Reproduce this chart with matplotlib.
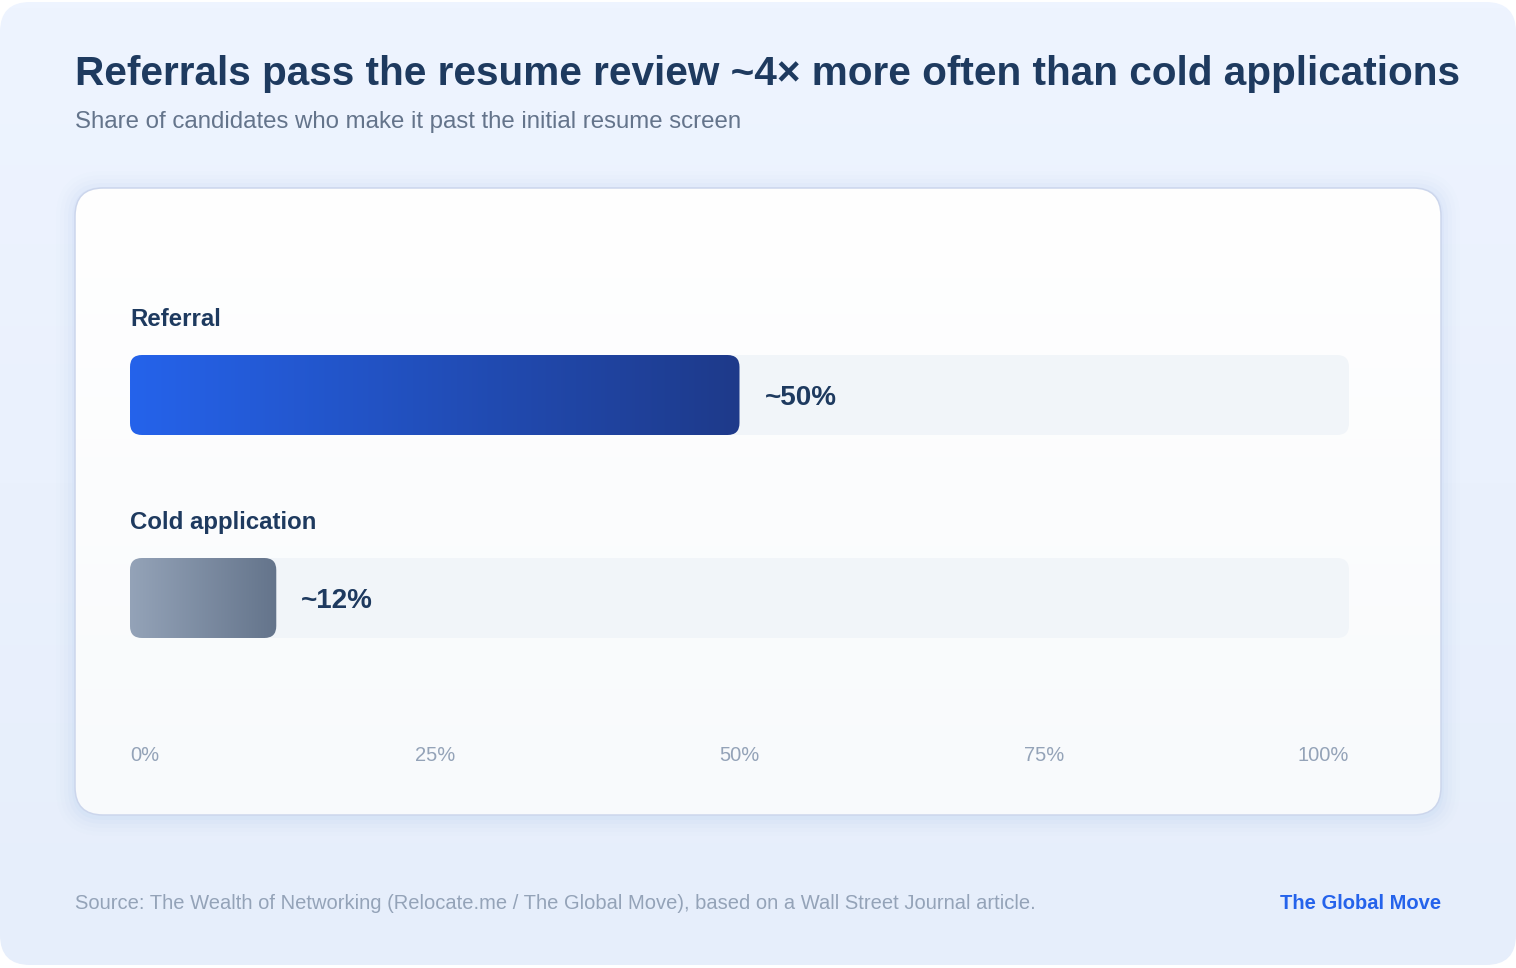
import numpy as np
import matplotlib
matplotlib.use('Agg')
import matplotlib.pyplot as plt
from matplotlib.patches import FancyBboxPatch
from matplotlib.colors import LinearSegmentedColormap

plt.rcParams['font.family'] = ['Liberation Sans', 'DejaVu Sans']

# data
categories = ['Referral', 'Cold application']
values = [50, 12]
value_labels = ['~50%', '~12%']
bar_colors = [('#2563eb', '#1e3a8a'), ('#94a3b8', '#64748b')]
tick_values = [0, 25, 50, 75, 100]
tick_labels = ['0%', '25%', '50%', '75%', '100%']

title = 'Referrals pass the resume review ~4\u00d7 more often than cold applications'
subtitle = 'Share of candidates who make it past the initial resume screen'
source = 'Source: The Wealth of Networking (Relocate.me / The Global Move), based on a Wall Street Journal article.'
brand = 'The Global Move'

NAVY = '#1e3a5f'
W, H = 1516, 968


def gradient_box(ax, x0, y0, w, h, r, c0, c1, direction='v', aspect=1.0, zorder=1):
    patch = FancyBboxPatch((x0, y0), w, h, boxstyle=f'round,pad=0,rounding_size={r}',
                           mutation_aspect=aspect, fc='none', ec='none', zorder=zorder)
    ax.add_patch(patch)
    cmap = LinearSegmentedColormap.from_list('g', [c0, c1])
    g = np.linspace(0, 1, 256)
    arr = g[None, :] if direction == 'h' else g[:, None]
    im = ax.imshow(arr, cmap=cmap, extent=(x0, x0 + w, y0 + h, y0), aspect='auto',
                   zorder=zorder, interpolation='bilinear')
    im.set_clip_path(patch)
    return patch


fig = plt.figure(figsize=(W / 100, H / 100), dpi=100)
fig.patch.set_facecolor('white')

# background layer in pixel coordinates
bg = fig.add_axes([0, 0, 1, 1])
bg.axis('off')

gradient_box(bg, 0, 2, W, 963, 30, '#eef4ff', '#e6eefb', zorder=0)

# card shadow + card
for i, a in enumerate([0.05, 0.04, 0.03, 0.02, 0.015]):
    p = 3 + i * 4
    bg.add_patch(FancyBboxPatch((75 - p, 190 - p), 1366 + 2 * p, 627 + 2 * p,
                                boxstyle=f'round,pad=0,rounding_size={28 + p}',
                                fc='#93b4f0', ec='none', alpha=a, zorder=1))
gradient_box(bg, 75, 188, 1366, 627, 28, '#ffffff', '#f8fafc', zorder=2)
bg.add_patch(FancyBboxPatch((75, 188), 1366, 627, boxstyle='round,pad=0,rounding_size=28',
                            fc='none', ec='#ccd6ec', lw=1.1, zorder=3))
bg.set_xlim(0, W)
bg.set_ylim(H, 0)

bg.text(75, 85, title, fontsize=29.2, fontweight='bold', color=NAVY, va='baseline', ha='left')
bg.text(75, 128, subtitle, fontsize=17.3, color='#64748b', va='baseline', ha='left')
bg.text(75, 909, source, fontsize=14.5, color='#94a3b8', va='baseline', ha='left')
bg.text(1441, 909, brand, fontsize=14.5, fontweight='bold', color='#2563eb', va='baseline', ha='right')

# chart area: x in percent, y in pixels from top of area
top_px, bot_px = 290, 780
left_px, right_px = 130, 1349
ax = fig.add_axes([left_px / W, (H - bot_px) / H, (right_px - left_px) / W, (bot_px - top_px) / H])
ax.axis('off')
ax.patch.set_alpha(0)
px_x = 100 / (right_px - left_px)
asp = 1 / px_x
bar_h = 80
row_gap = 203
first_bar = 65

for i, (cat, v, lab, (c0, c1)) in enumerate(zip(categories, values, value_labels, bar_colors)):
    y0 = first_bar + i * row_gap
    ax.add_patch(FancyBboxPatch((0, y0), 100, bar_h, boxstyle=f'round,pad=0,rounding_size={12 * px_x}',
                                mutation_aspect=asp, fc='#f1f5f9', ec='none', zorder=1))
    gradient_box(ax, 0, y0, v, bar_h, 12 * px_x, c0, c1, direction='h', aspect=asp, zorder=2)
    ax.text(0, y0 - 29, cat, fontsize=17.3, fontweight='bold', color=NAVY, ha='left', va='baseline')
    ax.text(v + 25 * px_x, y0 + bar_h / 2, lab, fontsize=20, fontweight='bold', color=NAVY,
            ha='left', va='center_baseline', zorder=3)

for i, (t, tl) in enumerate(zip(tick_values, tick_labels)):
    ha = 'left' if i == 0 else ('right' if i == len(tick_values) - 1 else 'center')
    ax.text(t, 471, tl, fontsize=14.5, color='#94a3b8', ha=ha, va='baseline')

ax.set_xlim(0, 100)
ax.set_ylim(bot_px - top_px, 0)

fig.savefig('out.png', dpi=100, facecolor='white')
